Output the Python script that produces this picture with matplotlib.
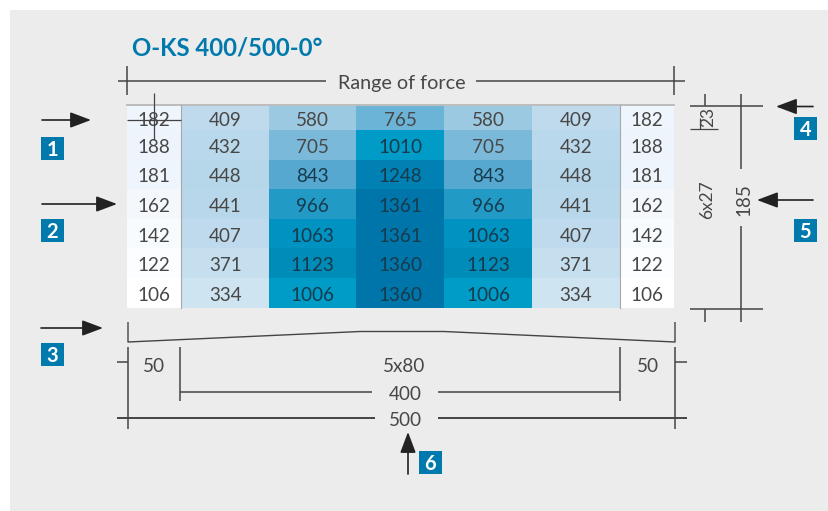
import numpy as np
import matplotlib
matplotlib.use("Agg")
import matplotlib.pyplot as plt
from matplotlib.colors import LinearSegmentedColormap, Normalize
from matplotlib.patches import Rectangle

plt.rcParams['font.family'] = ['Lato', 'DejaVu Sans']

W, H = 829, 511
title = "O-KS 400/500-0°"
col_a = [182, 188, 181, 162, 142, 122, 106]
col_b = [409, 432, 448, 441, 407, 371, 334]
col_c = [580, 705, 843, 966, 1063, 1123, 1006]
col_d = [765, 1010, 1248, 1361, 1361, 1360, 1360]
values = np.array([col_a, col_b, col_c, col_d, col_c, col_b, col_a]).T

x_edges = [127, 181.5, 269, 356.5, 444, 532, 620, 674]
y_edges = [106, 130, 160, 189, 219, 248, 278, 308]

stops = [(106, '#ffffff'), (142, '#f8fbfe'), (188, '#edf4fb'), (334, '#cfe4f1'), (409, '#bedaec'),
         (448, '#b6d6ea'), (580, '#9bc9e2'), (705, '#7bb9da'), (765, '#6cb3d8'), (843, '#57a8d0'),
         (966, '#229ac6'), (1006, '#009cc8'), (1063, '#0092c1'), (1123, '#008cb9'), (1248, '#0080b3'),
         (1361, '#0075a9')]
vmin, vmax = 106, 1361
cmap = LinearSegmentedColormap.from_list('force', [((v - vmin) / (vmax - vmin), c) for v, c in stops])

fig = plt.figure(figsize=(W / 100, H / 100), dpi=100, facecolor='white')
ax = fig.add_axes([0, 0, 1, 1])
ax.set_xlim(0, W)
ax.set_ylim(H, 0)
ax.axis('off')

ax.add_patch(Rectangle((10, 10), W - 10, H - 10, fc='#ececec', ec='none', zorder=0))
ax.pcolormesh(x_edges, y_edges, values, cmap=cmap, norm=Normalize(vmin, vmax), zorder=1)

TXT = '#474747'
FS = 13.6
def label(x, y, s, fs=FS, rot=0, color=TXT):
    ax.text(x, y, s, ha='center', va='center_baseline', fontsize=fs, color=color, rotation=rot,
            rotation_mode='anchor', zorder=5)

for r in range(7):
    for c in range(7):
        v = values[r, c]
        label((x_edges[c] + x_edges[c + 1]) / 2, (y_edges[r] + y_edges[r + 1]) / 2 + 1, str(v),
              color='#173a4c' if v > 800 else TXT)

# table rules
ax.plot([127, 674], [105, 105], color='#bcbcbc', lw=1.4, zorder=3)
for x in (181.5, 620):
    ax.plot([x, x], [105, 308], color='#a8a8a8', lw=0.8, zorder=3)

ax.text(132, 47.5, title, color='#0079ad', fontsize=17.2, fontweight='bold', ha='left', va='center', zorder=4)

LINE = '#444444'
def seg(x, y, lw=1.1):
    ax.plot(x, y, color=LINE, lw=lw, zorder=6, solid_capstyle='butt')

# range of force
label(402, 82.5, "Range of force", 14.2)
seg([118, 326], [81, 81]); seg([476, 685], [81, 81])
seg([127, 127], [66, 95]); seg([674, 674], [66, 95])

# force marker on first cell
seg([127, 181], [120, 120], 0.9); seg([154, 154], [93, 140], 0.9)

# right hand dimensions
seg([690, 763], [106, 106]); seg([690, 763], [309, 309])
seg([705, 705], [94, 106]); seg([705, 705], [309, 322])
seg([741, 741], [94, 169]); seg([741, 741], [226, 322])
seg([690, 718], [129, 129], 0.9); seg([700, 700], [118, 129], 0.9)
label(707, 117, "23", 12.5, 90)
label(706, 200, "6x27", 12.5, 90)
label(742, 200, "185", FS, 90)

# bottom dimensions
outline_x = [128, 128, 360, 444, 675, 675]
outline_y = [322, 342, 331.5, 331.5, 342, 322]
seg(outline_x, outline_y, 1.0)
seg([128, 128], [347, 429]); seg([675, 675], [347, 429])
seg([117, 128], [362, 362]); seg([675, 687], [362, 362])
seg([180, 180], [347, 401]); seg([620, 620], [347, 401])
seg([180, 372], [392, 392]); seg([438, 620], [392, 392])
seg([117, 375], [418, 418], 1.4); seg([438, 687], [418, 418], 1.4)
for x, y, s in [(154, 365, "50"), (648, 365, "50"), (404, 365, "5x80"), (405, 393, "400"), (405, 419, "500")]:
    label(x, y, s)

# arrows
def arrow(start, end):
    ax.annotate('', xy=end, xytext=start, zorder=6,
                arrowprops=dict(arrowstyle='-|>,head_length=0.85,head_width=0.32', color='#222222',
                                lw=1.2, shrinkA=0, shrinkB=0, mutation_scale=15))
arrow((42, 120), (91, 120))
arrow((42, 204), (117, 204))
arrow((41, 328), (103, 328))
arrow((813, 106.5), (776, 106.5))
arrow((813, 200), (757, 200))
arrow((408, 474), (408, 432))

# numbered badges
badges = [("1", 41, 137), ("2", 41, 219), ("3", 41, 343), ("4", 794, 117), ("5", 794, 219), ("6", 419, 451)]
for s, x, y in badges:
    ax.add_patch(Rectangle((x, y), 23, 23, fc='#0079ad', ec='none', zorder=6))
    ax.text(x + 11.5, y + 11.5, s, color='white', fontsize=14.5, fontweight='bold', ha='center',
            va='center_baseline', zorder=7)

fig.savefig('out.png', dpi=100, facecolor='white')
